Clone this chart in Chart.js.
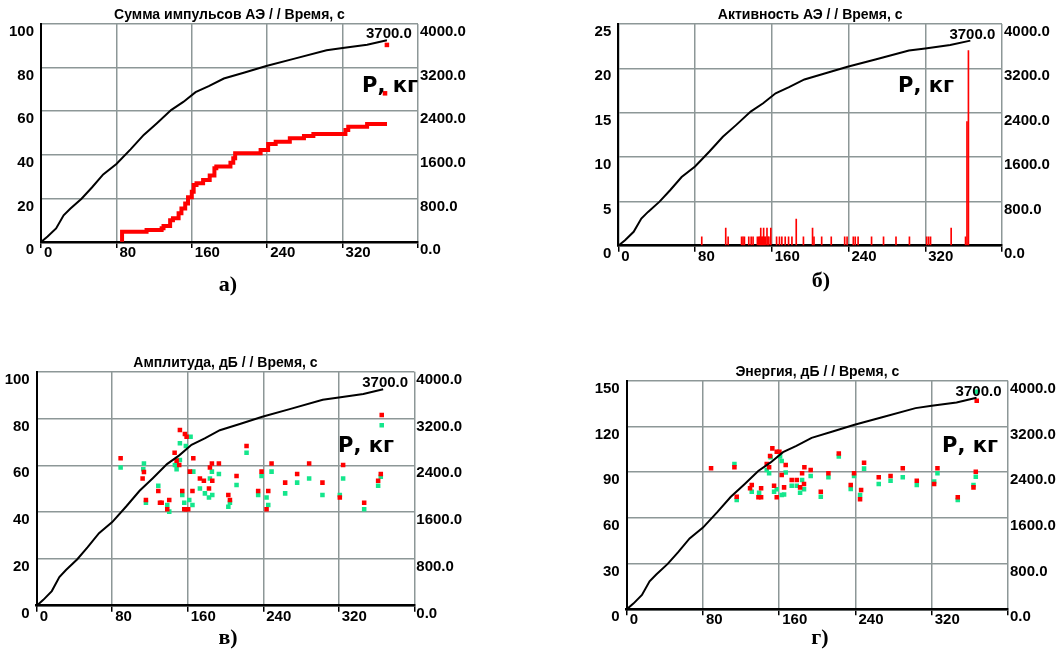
<!DOCTYPE html>
<html><head><meta charset="utf-8">
<script src="https://cdn.jsdelivr.net/npm/chart.js@4.4.1/dist/chart.umd.min.js"></script>
<style>
html,body{margin:0;padding:0;background:#fff;}
body{width:1057px;height:650px;position:relative;overflow:hidden;}
canvas{position:absolute;}
</style></head>
<body>
<canvas id="cA" width="480" height="300" style="left:0px;top:0px"></canvas>
<canvas id="cB" width="497" height="300" style="left:560px;top:0px"></canvas>
<canvas id="cC" width="480" height="310" style="left:0px;top:340px"></canvas>
<canvas id="cD" width="487" height="310" style="left:570px;top:340px"></canvas>
<script>
// ---------- DATA ----------
// load curve P (kg) vs time (s), right axis in every panel
const loadTime = [0, 7, 16, 24, 31, 43, 54, 66, 80, 95, 109, 123, 138, 151, 164, 178, 194, 216, 239, 268, 303, 320, 346, 367];
const loadKg   = [0, 100, 250, 490, 610, 795, 1000, 1240, 1430, 1700, 1965, 2180, 2420, 2570, 2750, 2860, 3000, 3110, 3230, 3360, 3520, 3560, 3620, 3700];

// a) cumulative AE hits (step curve)
const sumTime = [86, 112, 128, 130, 137, 140, 146, 149, 153, 156, 160, 162, 165, 172, 179, 184, 186, 201, 204, 206, 233, 241, 249, 264, 279, 289, 323, 326, 346, 365];
const sumHits = [1, 4.7, 5.5, 6.3, 7.3, 10, 10.9, 13.2, 15.4, 17.7, 20.5, 23.1, 26.1, 26.9, 28.4, 30.5, 33.8, 34.6, 36.4, 38.4, 40.7, 42.2, 45, 46, 47.6, 48.6, 49.5, 51.4, 52.9, 54.1];
const sumExtraTime = [365, 367];
const sumExtraHits = [68.2, 90.4];

// b) AE activity
const actTime = [87, 112, 114.5, 128.5, 130, 131.5, 136, 138.5, 140.5, 145, 146.5, 147.5, 148.5, 149.5, 150.5, 151.5, 152.5, 153.5, 155, 156, 157, 159, 165, 168, 170.5, 174, 177.5, 181, 185.5, 193, 202.5, 204, 212, 222, 236, 238.5, 245, 247, 250, 264, 276.5, 289.5, 303.5, 321.5, 323.5, 325.5, 347, 362, 363.5, 365];
const actVal  = [1, 2, 1, 1, 1, 1, 1, 1, 1, 1, 1, 1, 2, 1, 1, 2, 1, 1, 2, 1, 1, 2, 1, 1, 1, 1, 1, 1, 3, 1, 2, 1, 1, 1, 1, 1, 1, 1, 1, 1, 1, 1, 1, 1, 1, 1, 2, 1, 14, 22];

// c) amplitude, dB
const ampRedTime = [88.9, 112.2, 113.6, 115.7, 128.8, 130.6, 132.4, 138.3, 140.4, 146.1, 148.2, 151, 151.7, 154.2, 157, 158.8, 156.3, 158.2, 160.5, 162.3, 165, 165.9, 172.9, 177.1, 182.5, 183.5, 185.6, 186, 193, 203, 204.7, 211.7, 222.3, 234.6, 238.2, 243.5, 245.3, 248.8, 263.2, 275.9, 288.6, 302.7, 321.1, 324.6, 346.9, 361.7, 364.5, 365.5];
const ampRedDb   = [63, 54.4, 57.1, 45.2, 49, 44, 44, 41.2, 45.2, 65.4, 62, 60.1, 75.1, 49, 73.4, 72.2, 41.2, 41.2, 41.2, 57.3, 49, 63, 54.4, 53.4, 50.1, 59.1, 60.8, 53.4, 60.8, 47.3, 45.2, 55.4, 68.2, 49, 57.3, 41.2, 49, 60.8, 52.6, 56.3, 60.8, 52.6, 46.2, 60.1, 44, 53.4, 56.3, 81.5];
const ampGreenTime = [88.9, 112.9, 113.6, 115.7, 128.8, 138.3, 140.4, 146.4, 148.2, 151.7, 151.7, 154.2, 163, 158, 156.3, 161.6, 165, 165.9, 172.9, 178.2, 182.5, 183.5, 185.6, 186, 193, 203, 204.7, 211.7, 222.3, 234.6, 238.2, 243.5, 245.3, 248.8, 263.2, 275.9, 288.6, 302.7, 321.1, 324.6, 346.9, 361.7, 364.5, 365.5];
const ampGreenDb   = [59.1, 58.3, 60.8, 44, 51.3, 43, 40.2, 60.1, 58.3, 62.3, 69.4, 47.3, 72.2, 68.2, 44, 45.2, 43, 57.3, 50.1, 48, 46.2, 54.4, 57.3, 47.3, 56.3, 42.3, 44, 51.6, 65.4, 47.3, 55.4, 46.2, 43, 57.3, 48, 52.6, 54.4, 47.3, 47.3, 54.4, 41.2, 51.3, 55.1, 77.1];

// d) energy, dB
const enRedTime = [88.5, 113, 115.4, 129.4, 131.2, 138.2, 141, 141, 146.9, 149.4, 150.4, 152.8, 154.6, 157.4, 157.4, 160.2, 162.6, 165.1, 166.8, 173.1, 178.4, 181.9, 184, 186, 186.4, 193, 203.6, 211.6, 222.5, 235, 238.5, 244.8, 245.9, 249, 264.4, 276.8, 289.6, 304.3, 322.5, 326, 347.3, 363.8, 366.2, 367.2];
const enRedDb   = [92.5, 93.2, 73.9, 79.4, 81.6, 73.5, 73.5, 79.4, 95.3, 93.2, 100.6, 105.6, 81.1, 73.5, 103.4, 103.4, 88.1, 80, 94.7, 84.8, 84.8, 80, 89.2, 82.2, 93.2, 91.4, 77.2, 89.2, 102.3, 81.6, 89.2, 72.2, 78.3, 96.2, 86.6, 87.5, 92.5, 84.4, 82.2, 92.5, 73.5, 80, 90.3, 136.9];
const enGreenTime = [113, 115.4, 131.2, 138.9, 146.9, 149.4, 151, 154.6, 157.4, 160.9, 162.6, 162.6, 165.1, 166.8, 173.1, 178.4, 181.9, 184, 186, 193, 203.6, 211.6, 222.5, 235, 238.5, 244.8, 249, 264.4, 276.8, 289.6, 304.3, 322.5, 326, 347.3, 363.8, 366.2, 367.2];
const enGreenDb   = [95.3, 71.7, 77.2, 76.5, 91.4, 89.2, 99.7, 77.2, 78.7, 100.2, 97.3, 75, 75.4, 89.7, 81.1, 81.1, 76.5, 84.8, 78.7, 87.5, 73.9, 86.6, 100.2, 78.9, 87.5, 75, 92.3, 82.2, 84.4, 86.6, 81.6, 83.8, 89.2, 71.7, 81.6, 87, 142.8];

// axes
const timeMax = 400, timeStep = 80;
const loadMax = 4000, loadStep = 800;

// ---------- STYLE ----------
const GRID = '#8d9797';
const RED = '#ff0000';
const GREEN = '#14e68c';
Chart.defaults.font.family = "'Liberation Sans', Arial, sans-serif";
Chart.defaults.font.weight = 'bold';
Chart.defaults.font.size = 15;
Chart.defaults.color = '#000';
Chart.defaults.animation = false;
Chart.defaults.plugins.legend.display = false;
Chart.defaults.plugins.tooltip.enabled = false;

function pts(xs, ys) { return xs.map((x, i) => ({x: x, y: ys[i]})); }

const textPlugin = {
  id: 'texts',
  afterDraw(chart, args, o) {
    const ctx = chart.ctx, a = chart.chartArea;
    ctx.save();
    ctx.fillStyle = '#000';
    ctx.font = "bold 14px 'Liberation Sans'";
    ctx.textAlign = 'center'; ctx.textBaseline = 'middle';
    ctx.fillText(o.title, (a.left + a.right) / 2, a.top - 9);
    const n = loadKg.length - 1;
    const px = chart.scales.x.getPixelForValue(loadTime[n]);
    const py = chart.scales.y2.getPixelForValue(loadKg[n]);
    ctx.font = "bold 15px 'Liberation Sans'";
    ctx.textBaseline = 'alphabetic';
    ctx.fillText(loadKg[n].toFixed(1), px + 2, py - 2);
    ctx.font = "bold 21px 'DejaVu Sans'";
    ctx.textAlign = 'left'; ctx.textBaseline = 'middle';
    ctx.fillText('Р, кг', o.unitX, o.unitY);
    ctx.font = "bold 22px 'Liberation Serif'";
    ctx.textAlign = 'center';
    ctx.fillText(o.caption, o.capX, o.capY);
    ctx.restore();
  }
};

function makePanel(id, p, leftMax, leftStep, datasets) {
  const loadDs = {
    type: 'line', data: pts(loadTime, loadKg), yAxisID: 'y2',
    borderColor: '#000', borderWidth: 2, pointRadius: 0, tension: 0, order: 0
  };
  return new Chart(document.getElementById(id), {
    type: 'line',
    data: {datasets: [loadDs].concat(datasets)},
    options: {
      responsive: false, devicePixelRatio: 1,
      layout: {padding: {top: p.T, left: 0, right: 0, bottom: 0}},
      plugins: {texts: {title: p.title, caption: p.caption, capX: p.capX, capY: p.capY, unitX: p.unitX, unitY: p.unitY}},
      scales: {
        x: {
          type: 'linear', min: 0, max: timeMax, offset: false,
          ticks: {stepSize: timeStep, align: 'start', labelOffset: 3, padding: -4, maxRotation: 0, autoSkip: false,
                  callback: v => (v === timeMax ? '' : String(v))},
          grid: {color: GRID, lineWidth: 1.5, offset: false, drawTicks: true, tickLength: 6, tickColor: '#000', tickWidth: 1.5},
          border: {color: '#000', width: 2.5},
          afterFit: s => { s.height = p.B; }
        },
        y: {
          position: 'left', min: 0, max: leftMax,
          ticks: {stepSize: leftStep, padding: 7, labelOffset: 8, autoSkip: false},
          grid: {color: GRID, lineWidth: 1.5, drawTicks: false},
          border: {color: '#000', width: 2},
          afterFit: s => { s.width = p.L; }
        },
        y2: {
          position: 'right', min: 0, max: loadMax,
          ticks: {stepSize: loadStep, padding: 2, labelOffset: 8, autoSkip: false, callback: v => Number(v).toFixed(1)},
          grid: {drawOnChartArea: false, drawTicks: false},
          border: {display: false},
          afterFit: s => { s.width = p.R; }
        }
      }
    },
    plugins: [textPlugin]
  });
}

function sq(data, color, order) {
  return {type: 'scatter', data: data, yAxisID: 'y', pointStyle: 'rect', pointRadius: 3.2,
          pointBorderWidth: 0, backgroundColor: color, borderColor: color, showLine: false, order: order};
}

// a)
makePanel('cA', {L: 41, T: 24, R: 62, B: 58, title: 'Сумма импульсов АЭ / / Время, с', caption: 'а)',
  capX: 228, capY: 285, unitX: 362, unitY: 87}, 100, 20, [
  {type: 'line', data: pts(sumTime, sumHits), yAxisID: 'y', stepped: 'after', borderColor: RED, borderWidth: 4,
   pointRadius: 0, borderCapStyle: 'square', order: 1},
  sq(pts(sumExtraTime, sumExtraHits), RED, 1)
]);

// b)
makePanel('cB', {L: 58.3, T: 24, R: 55, B: 54.3, title: 'Активность АЭ / / Время, с', caption: 'б)',
  capX: 821 - 560, capY: 281, unitX: 898 - 560, unitY: 87}, 25, 5, [
  {type: 'bar', data: pts(actTime, actVal), yAxisID: 'y', backgroundColor: RED, borderWidth: 0,
   barThickness: 1, grouped: false, order: 1}
]);

// c)
makePanel('cC', {L: 36.7, T: 31.7, R: 65.7, B: 44.3, title: 'Амплитуда, дБ / / Время, с', caption: 'в)',
  capX: 228, capY: 638 - 340, unitX: 338, unitY: 447 - 340}, 100, 20, [
  sq(pts(ampGreenTime, ampGreenDb), GREEN, 2),
  sq(pts(ampRedTime, ampRedDb), RED, 1)
]);

// d)
makePanel('cD', {L: 56.7, T: 40.7, R: 49, B: 40.7, title: 'Энергия, дБ / / Время, с', caption: 'г)',
  capX: 820 - 570, capY: 638 - 340, unitX: 942 - 570, unitY: 447 - 340}, 150, 30, [
  sq(pts(enGreenTime, enGreenDb), GREEN, 2),
  sq(pts(enRedTime, enRedDb), RED, 1)
]);
</script>
</body></html>
